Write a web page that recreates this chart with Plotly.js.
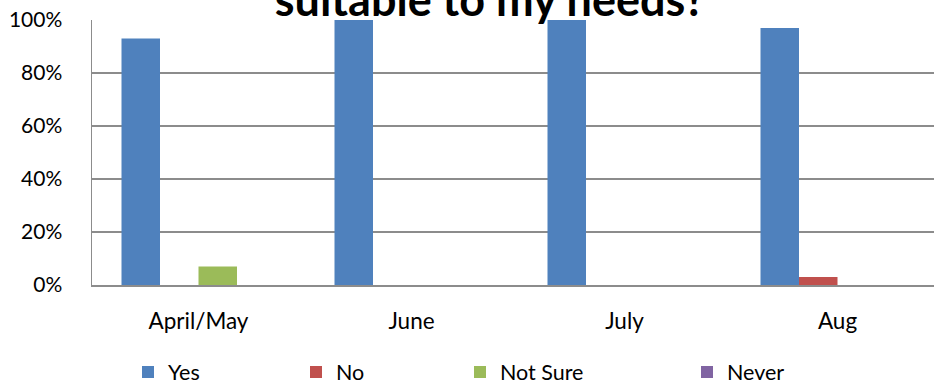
<!DOCTYPE html>
<html>
<head>
<meta charset="utf-8">
<script src="https://cdn.plot.ly/plotly-3.0.1.min.js"></script>
<style>
html,body{margin:0;padding:0;overflow:hidden;background:#fff;}
#chart{width:946px;height:385px;}
</style>
</head>
<body>
<div id="chart"></div>
<script>
var categories = ["April/May", "June", "July", "Aug"];
var yesValues = [0.93, 1.00, 1.00, 0.97];
var noValues = [0, 0, 0, 0.03];
var notSureValues = [0.07, 0, 0, 0];
var neverValues = [0, 0, 0, 0];
var seriesNames = ["Yes", "No", "Not Sure", "Never"];
var seriesColors = ["#4F81BD", "#C0504D", "#9BBB59", "#8064A2"];
var yTickVals = [0, 0.2, 0.4, 0.6, 0.8, 1.0];
var titleText = "suitable to my needs?";

var W = 946, H = 385;
var seriesValues = [yesValues, noValues, notSureValues, neverValues];
var legendNames = ["legend", "legend2", "legend3", "legend4"];
var legendSymbolCenters = [150, 318, 482, 709];

var font = "Lato, 'Open Sans', sans-serif";

var traces = seriesNames.map(function (name, i) {
  return {
    type: "bar",
    name: name,
    x: categories,
    y: seriesValues[i],
    marker: {color: seriesColors[i], line: {width: 0}},
    legend: legendNames[i],
    hoverinfo: "x+y+name"
  };
});

var layout = {
  width: W,
  height: H,
  margin: {l: 92, r: 2, t: 20, b: 100, pad: 0},
  paper_bgcolor: "#ffffff",
  plot_bgcolor: "#ffffff",
  font: {family: font, size: 21, color: "#000000"},
  title: {
    text: "<b>" + titleText + "</b>",
    font: {family: font, size: 45, color: "#000000"},
    xref: "container",
    yref: "container",
    x: 490 / W,
    xanchor: "center",
    y: 1 - 16 / H,
    yanchor: "bottom"
  },
  barmode: "group",
  bargap: 0.277,
  bargroupgap: 0,
  xaxis: {
    type: "category",
    showgrid: false,
    showline: true,
    linecolor: "#8c8c8c",
    linewidth: 1.5,
    ticks: "",
    ticklabelstandoff: 15,
    tickfont: {family: font, size: 22.5, color: "#000000"},
    fixedrange: true
  },
  yaxis: {
    range: [0, 1],
    tickvals: yTickVals,
    tickformat: ".0%",
    showgrid: true,
    gridcolor: "#8c8c8c",
    gridwidth: 1.5,
    showline: true,
    linecolor: "#8c8c8c",
    linewidth: 1.5,
    zeroline: false,
    ticks: "",
    ticklabelstandoff: 24,
    tickfont: {family: font, size: 21, color: "#000000"},
    fixedrange: true
  },
  showlegend: true
};

legendNames.forEach(function (ln, i) {
  layout[ln] = {
    orientation: "h",
    xref: "container",
    yref: "container",
    x: (legendSymbolCenters[i] - 22) / W,
    xanchor: "left",
    y: 13 / H,
    yanchor: "middle",
    bgcolor: "rgba(0,0,0,0)",
    borderwidth: 0,
    font: {family: font, size: 21.5, color: "#000000"}
  };
});

Plotly.newPlot("chart", traces, layout, {displayModeBar: false, staticPlot: true});
</script>
</body>
</html>
